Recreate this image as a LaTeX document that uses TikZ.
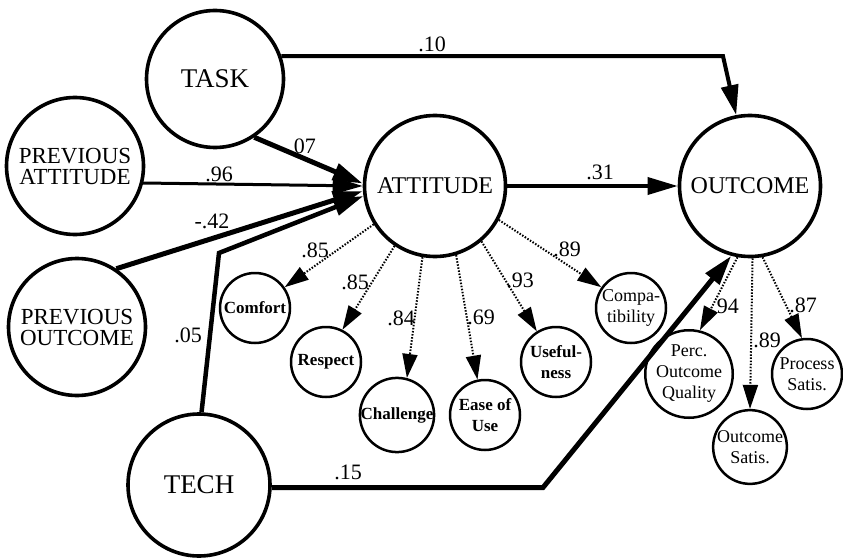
\documentclass[tikz,border=0pt]{standalone}
\usepackage{fontspec}
\setmainfont{Liberation Serif}
\usetikzlibrary{arrows.meta}
\tikzset{
  bigc/.style={circle,draw,line width=3.6pt,inner sep=0pt,align=center},
  smallc/.style={circle,draw,line width=2.5pt,minimum size=70pt,inner sep=0pt,align=center,
     font=\fontsize{17}{21}\selectfont\bfseries},
  smallr/.style={smallc,font=\fontsize{18}{21}\selectfont},
  lab/.style={inner sep=0pt,font=\fontsize{22}{22}\selectfont},
  mainarr/.style={line width=#1,-{Triangle[length=30pt,width=17pt]}},
  dotarr/.style={line width=2pt,dash pattern=on 1.5pt off 1.6pt,-{Triangle[length=24pt,width=15pt]}}
}
\begin{document}
\begin{tikzpicture}[x=1pt,y=-1pt]
\useasboundingbox (0,0) rectangle (843,559);
% large constructs
\node[bigc,minimum size=137pt,font=\fontsize{27}{27}\selectfont] (task) at (215,79) {TASK};
\node[bigc,minimum size=137pt,font=\fontsize{23}{21}\selectfont] (pa) at (75,166) {PREVIOUS\\ATTITUDE};
\node[bigc,minimum size=137pt,font=\fontsize{23}{21}\selectfont] (po) at (77,327) {PREVIOUS\\OUTCOME};
\node[bigc,minimum size=142pt,font=\fontsize{27}{27}\selectfont] (tech) at (199,485) {TECH};
\node[bigc,minimum size=141pt,font=\fontsize{24}{24}\selectfont] (att) at (435,186) {ATTITUDE};
\node[bigc,minimum size=141pt,font=\fontsize{24}{24}\selectfont] (out) at (750,186) {OUTCOME};
% indicators
\node[smallc] (comfort) at (255,308) {Comfort};
\node[smallc] (respect) at (326,362) {Respect};
\node[smallc] (challenge) at (397,415) {Challenge};
\node[smallc] (ease) at (485,415) {Ease of\\Use};
\node[smallc] (useful) at (556,362) {Useful-\\ness};
\node[smallr] (compat) at (631,308) {Compa-\\tibility};
\node[smallr] (perc) at (689,374) {Perc.\\Outcome\\Quality};
\node[smallr] (osat) at (750,447) {Outcome\\Satis.};
\node[smallr] (psat) at (807,374) {Process\\Satis.};
% bend points
\coordinate (b1) at (723,57);
\coordinate (b2) at (219,253);
\coordinate (b3) at (543,488);
% structural paths
\draw[mainarr=4pt] (task.19) -- (task.19 -| b1) -- (out.101);
\draw[mainarr=5pt] (task.-56) -- (att.178);
\draw[mainarr=3pt] (pa.-14) -- (att.180);
\draw[mainarr=5pt] (po.56) -- (att.184);
\draw[mainarr=4.5pt] (tech.88) -- (b2) -- (att.188);
\draw[mainarr=5pt] (tech.-2) -- (tech.-2 -| b3) -- (out.255);
\draw[mainarr=3.5pt] (att.0) -- (out.180);
% measurement paths
\draw[dotarr] (att.212) -- (comfort.35);
\draw[dotarr] (att.236) -- (respect.63);
\draw[dotarr] (att.260) -- (challenge.75);
\draw[dotarr] (att.287) -- (ease.102);
\draw[dotarr] (att.310) -- (useful.122);
\draw[dotarr] (att.332) -- (compat.145);
\draw[dotarr] (out.260) -- (perc.76);
\draw[dotarr] (out.272) -- (osat.90);
\draw[dotarr] (out.280) -- (psat.98);
% coefficients
\node[lab] (l10) at (432,44) {.10};
\node[lab] (l07) at (302,146) {.07};
\node[lab] (l96) at (219,174) {.96};
\node[lab] (l42) at (212,221) {-.42};
\node[lab] (l05) at (188,335) {.05};
\node[lab] (l15) at (348,472) {.15};
\node[lab] (l31) at (600,172) {.31};
\node[lab] (c1) at (315,250) {.85};
\node[lab] (c2) at (355,282) {.85};
\node[lab] (c3) at (401,318) {.84};
\node[lab] (c4) at (481,317) {.69};
\node[lab] (c5) at (520,280) {.93};
\node[lab] (c6) at (567,249) {.89};
\node[lab] (c7) at (725,306) {.94};
\node[lab] (c8) at (767,340) {.89};
\node[lab] (c9) at (803,305) {.87};
\end{tikzpicture}
\end{document}
